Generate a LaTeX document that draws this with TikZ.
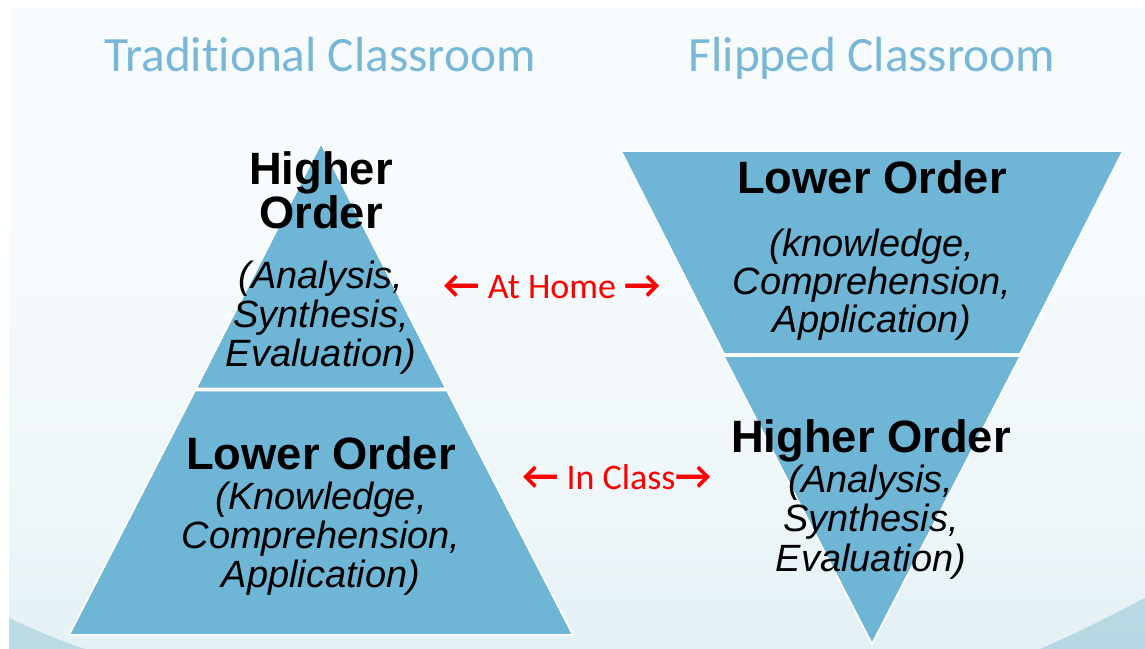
\documentclass[tikz,border=0pt]{standalone}
\usepackage{fontspec}
\setmainfont{Liberation Sans}
\newfontfamily\calib[Ligatures=NoCommon]{Carlito}
\definecolor{tri}{RGB}{111,181,213}
\definecolor{ttlc}{RGB}{120,183,215}
\definecolor{bgtop}{RGB}{247,251,253}
\definecolor{bgmid}{RGB}{238,246,249}
\definecolor{bgbot}{RGB}{200,226,234}
\definecolor{swoosh}{RGB}{140,192,209}
\pgfdeclareverticalshading{bgshade}{100bp}{color(0bp)=(bgbot); color(35bp)=(bgmid); color(60bp)=(bgtop); color(100bp)=(bgtop)}
\tikzset{
  piece/.style={fill=tri, draw=white, line width=1.3pt, line join=miter},
  boldtxt/.style={font=\fontsize{34}{40}\selectfont\bfseries, anchor=base, inner sep=0pt},
  itxt/.style={font=\fontsize{28.5}{30}\selectfont\itshape, anchor=base, inner sep=0pt},
  ttl/.style={font=\calib\fontsize{37}{44}\selectfont, text=ttlc, anchor=base, inner sep=0pt},
  redtxt/.style={font=\calib\fontsize{27}{32}\selectfont, text=red, anchor=base, inner sep=0pt}
}
\newcommand{\arrl}{{\bfseries\fontsize{30}{32}\selectfont ←}}
\newcommand{\arrr}{{\bfseries\fontsize{30}{32}\selectfont →}}
\begin{document}
\begin{tikzpicture}[x=0.75pt,y=-0.75pt]
\useasboundingbox (0,0) rectangle (1145,649);
\fill[white] (0,0) rectangle (1145,649);
\shade[shading=bgshade] (9,9) rectangle (1145,649);
\fill[swoosh, opacity=0.45] (9,618) .. controls (35,630) and (60,641) .. (85,649) -- (9,649) -- cycle;
\fill[swoosh, opacity=0.5] (1145,598) .. controls (1110,616) and (1075,634) .. (1040,649) -- (1145,649) -- cycle;
% titles
\node[ttl] (t1) at (320,72) {Traditional Classroom};
\node[ttl] (t2) at (872,72) {Flipped Classroom};
% left pyramid
\path[piece] (321,143) -- (446,388.5) -- (196,388.5) -- cycle;
\path[piece] (195,390.5) -- (447,390.5) -- (573,635) -- (69,635) -- cycle;
% right inverted pyramid
\path[piece] (621,151) -- (1123,151) -- (1020,354) -- (724,354) -- cycle;
\path[piece] (723.5,356) -- (1020.5,356) -- (872,644) -- cycle;
% left texts
\node[boldtxt] (a1) at (321,185) {Higher};
\node[boldtxt] (a2) at (321,228) {Order};
\node[itxt] (a3) at (321,288) {(Analysis,};
\node[itxt] (a4) at (321,327) {Synthesis,};
\node[itxt] (a5) at (321,366) {Evaluation)};
\node[boldtxt] (b1) at (321,469) {Lower Order};
\node[itxt] (b2) at (321,509) {(Knowledge,};
\node[itxt] (b3) at (321,548) {Comprehension,};
\node[itxt] (b4) at (321,587) {Application)};
% right texts
\node[boldtxt] (c1) at (872,193) {Lower Order};
\node[itxt] (c2) at (872,256) {(knowledge,};
\node[itxt] (c3) at (872,294) {Comprehension,};
\node[itxt] (c4) at (872,332) {Application)};
\node[boldtxt] (d1) at (871,452) {Higher Order};
\node[itxt] (d2) at (871,492) {(Analysis,};
\node[itxt] (d3) at (871,531) {Synthesis,};
\node[itxt] (d4) at (871,571) {Evaluation)};
% red labels
\node[redtxt] (home) at (552,298) {\arrl{} At Home \arrr};
\node[redtxt] (class) at (617,489) {\arrl{} In Class\arrr};
\end{tikzpicture}
\end{document}
